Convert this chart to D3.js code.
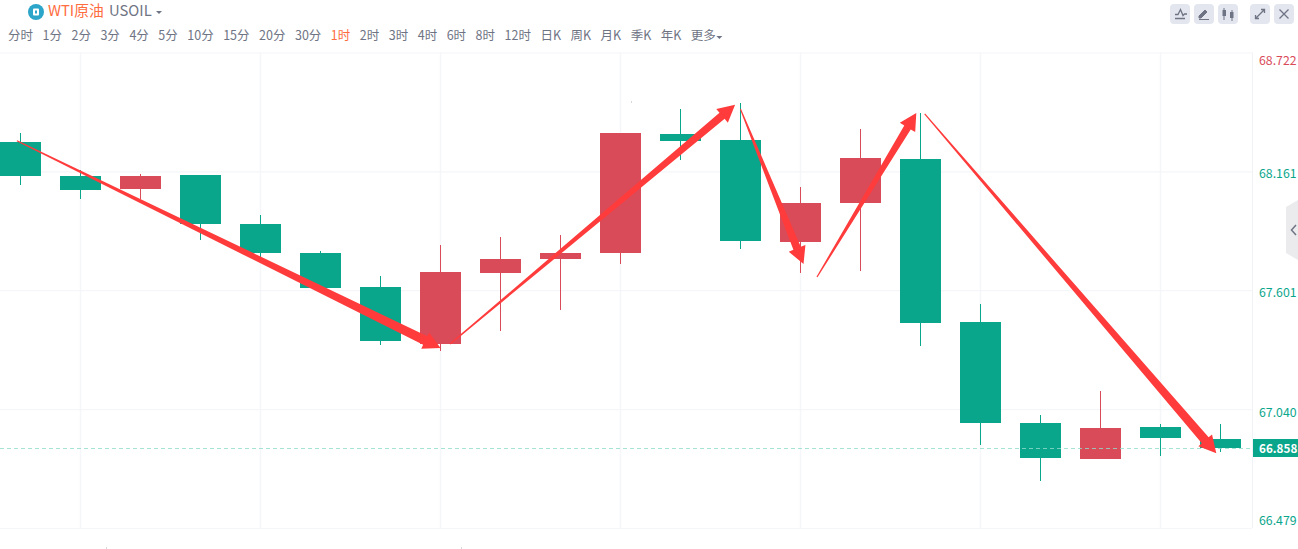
<!DOCTYPE html>
<html><head><meta charset="utf-8">
<script src="https://cdn.jsdelivr.net/npm/d3@7"></script>
<style>html,body{margin:0;padding:0;background:#fff;overflow:hidden}svg{display:block}text{font-family:"Noto Sans CJK SC","Noto Sans",sans-serif}</style>
</head><body><svg id="c" width="1298" height="549"></svg>
<script>
const tabs=["分时","1分","2分","3分","4分","5分","10分","15分","20分","30分","1时","2时","3时","4时","6时","8时","12时","日K","周K","月K","季K","年K","更多"];
const activeTab="1时";
const priceTicks=[68.722,68.161,67.601,67.040,66.479];
const lastPrice=66.858;
const bodyTop=[68.300,68.139,68.139,68.144,67.913,67.776,67.616,67.687,67.748,67.776,68.342,68.337,68.309,68.012,68.224,68.220,67.451,66.974,66.951,66.955,66.899];
const bodyBottom=[68.139,68.073,68.078,67.913,67.776,67.611,67.361,67.347,67.682,67.748,67.776,68.304,67.833,67.828,68.012,67.446,66.974,66.809,66.804,66.904,66.858];
const highs=[68.342,68.168,68.149,68.144,67.955,67.786,67.668,67.814,67.852,67.861,68.342,68.455,68.484,68.087,68.361,68.437,67.536,67.012,67.125,66.970,66.970];
const lows=[68.097,68.031,68.031,67.837,67.748,67.611,67.342,67.314,67.408,67.507,67.724,68.215,67.795,67.682,67.691,67.337,66.871,66.701,66.804,66.819,66.837];
const rising=[0,0,1,0,0,0,0,1,1,1,1,0,0,1,1,0,0,0,1,0,0];
// trend arrows as [candle index, price] pairs, tail then tip
const arrowTails=[[-0.06,68.306],[7.16,67.347],[12.0,68.455],[13.275,67.663],[15.07,68.432]];
const arrowTips=[[7.0,67.328],[11.91,68.475],[13.05,67.724],[14.93,68.437],[19.93,66.832]];
const arrowWidths=[9.5,8,8,7.5,9];
const C={green:"#0aa68c",red:"#da4b5a",grid:"#f5f6f9",arrow:"#ff3b3b",tab:"#6f7484",orange:"#ff6d3f",btn:"#e3e6ee",icon:"#6f7484"};
const svg=d3.select("#c");
const x=d3.scaleLinear().domain([0,20]).range([20.5,1220.5]);
const y=d3.scaleLinear().domain([66.479,68.722]).range([528,52.5]);
const chartRight=1252,bodyW=41;
// grid
svg.append("g").attr("transform",`translate(${chartRight},0)`)
 .call(d3.axisLeft(y).tickValues(priceTicks).tickSize(chartRight).tickFormat(""))
 .call(g=>{g.select(".domain").remove();g.selectAll("line").attr("stroke",C.grid).attr("stroke-width",1.2)});
svg.append("g").selectAll("line").data(d3.range(1,20,3)).join("line")
 .attr("x1",d=>x(d)).attr("x2",d=>x(d)).attr("y1",y(68.722)).attr("y2",y(66.479)).attr("stroke",C.grid).attr("stroke-width",1.4);
svg.append("line").attr("x1",chartRight+.5).attr("x2",chartRight+.5).attr("y1",y(68.722)).attr("y2",y(66.479)).attr("stroke","#f1f2f7");
// candles
const idx=d3.range(bodyTop.length);
const col=i=>rising[i]?C.red:C.green;
svg.append("g").selectAll("rect").data(idx).join("rect")
 .attr("x",i=>x(i)-.5).attr("width",1)
 .attr("y",i=>Math.round(y(highs[i]))).attr("height",i=>Math.round(y(lows[i]))-Math.round(y(highs[i])))
 .attr("fill",col);
svg.append("g").selectAll("rect").data(idx).join("rect")
 .attr("x",i=>x(i)-bodyW/2).attr("width",bodyW)
 .attr("y",i=>Math.round(y(bodyTop[i]))).attr("height",i=>Math.round(y(bodyBottom[i]))-Math.round(y(bodyTop[i])))
 .attr("fill",col);
// last price line
svg.append("line").attr("x1",0).attr("x2",chartRight).attr("y1",Math.round(y(lastPrice))+.5).attr("y2",Math.round(y(lastPrice))+.5)
 .attr("stroke","#8fdcca").attr("stroke-opacity",.8).attr("stroke-dasharray","4 3");
// arrows
const headL=17,headH=9,tailW=1.2;
svg.append("g").selectAll("path").data(idx.slice(0,arrowTips.length)).join("path")
 .attr("fill",C.arrow)
 .attr("d",i=>{
  const S=[x(arrowTails[i][0]),y(arrowTails[i][1])],T=[x(arrowTips[i][0]),y(arrowTips[i][1])];
  const dx=T[0]-S[0],dy=T[1]-S[1],l=Math.hypot(dx,dy),u=[dx/l,dy/l],n=[-u[1],u[0]];
  const B=[T[0]-u[0]*headL,T[1]-u[1]*headL],w=arrowWidths[i]/2;
  const P=k=>[B[0]+n[0]*k,B[1]+n[1]*k];
  const Q=k=>[S[0]+n[0]*k,S[1]+n[1]*k];
  return d3.line()([Q(tailW/2),P(w),P(headH),T,P(-headH),P(-w),Q(-tailW/2)])+"Z";
 });
// price axis labels
svg.append("g").attr("transform",`translate(${chartRight},0)`)
 .call(d3.axisRight(y).tickValues(priceTicks).tickSize(0).tickPadding(7).tickFormat(d3.format(".3f")))
 .call(g=>{g.select(".domain").remove();
  g.selectAll("text").attr("font-size",12.3).attr("font-family",'"Noto Sans CJK SC","Noto Sans",sans-serif')
   .attr("fill",d=>d===68.722?C.red:C.green)
   .attr("dy",d=>d===68.722?"1em":d===66.479?"-0.28em":"0.36em")
   .attr("y",d=>d===67.040?3:(d===68.161||d===67.601?2:0));});
const ly=Math.round(y(lastPrice));
svg.append("rect").attr("x",chartRight+1).attr("y",ly-9).attr("width",45).attr("height",18).attr("fill",C.green);
svg.append("text").attr("x",1259).attr("y",ly+4.5).attr("fill","#fff").attr("font-size",11.7).attr("font-weight",700).text(d3.format(".3f")(lastPrice));
// header
svg.append("circle").attr("cx",36).attr("cy",12).attr("r",8).attr("fill","#2ba5c9");
svg.append("rect").attr("x",33).attr("y",8.5).attr("width",6).attr("height",7).attr("rx",1).attr("fill","#fff");
svg.append("rect").attr("x",35).attr("y",10.5).attr("width",2).attr("height",3).attr("fill","#2ba5c9");
svg.append("text").attr("x",48).attr("y",16).attr("font-size",14.8).attr("fill",C.orange).text("WTI原油");
svg.append("text").attr("x",109).attr("y",16).attr("font-size",14.8).attr("fill",C.tab).text("USOIL");
svg.append("path").attr("d","M156 11h6l-3 3z").attr("fill",C.tab);
// tabs
let tx=8;
const tg=svg.append("g");
tabs.forEach(t=>{
 const e=tg.append("text").attr("x",tx).attr("y",40).attr("font-size",12.5).attr("fill",t===activeTab?C.orange:C.tab).text(t);
 tx+=e.node().getComputedTextLength()+9.5;
});
svg.append("path").attr("d",`M${tx-9} 36h6l-3 3z`).attr("fill",C.tab);
// toolbar buttons
const btns=[1170,1194,1218,1250,1274];
svg.append("g").selectAll("rect").data(btns).join("rect").attr("x",d=>d).attr("y",4).attr("width",20).attr("height",20).attr("rx",4).attr("fill",C.btn);
const ic=svg.append("g").attr("stroke",C.icon).attr("fill","none").attr("stroke-width",1.3);
ic.append("path").attr("d","M1175 14.5h3l2.5-5 2.5 6 1.500-1.500h2.500M1175 18.500h10");
ic.append("path").attr("d","M1199 16l6-6 2 2-6 6h-2zM1199 19.500h10").attr("fill",C.icon).attr("stroke-width",1);
ic.append("path").attr("d","M1224 8v12M1232 10v11").attr("stroke-width",1);
ic.append("rect").attr("x",1222.500).attr("y",10).attr("width",3.500).attr("height",6).attr("fill",C.icon).attr("stroke","none");
ic.append("rect").attr("x",1230).attr("y",12).attr("width",3.500).attr("height",6).attr("fill",C.icon).attr("stroke","none");
ic.append("path").attr("d","M1256 18l8-8M1261 9.500h3.500v3.500M1255.500 15v3.500h3.500");
ic.append("path").attr("d","M1279.500 9.500l9 9M1288.500 9.500l-9 9");
// side handle
svg.append("path").attr("d","M1298 200l-12 7v46l12 7z").attr("fill","#ebebee");
svg.append("path").attr("d","M1296 225l-4.500 5 4.500 5").attr("fill","none").attr("stroke",C.icon).attr("stroke-width",1.500);
// faint specks
svg.append("g").selectAll("rect").data([[631,101],[106,547],[461,547]]).join("rect")
 .attr("x",d=>d[0]).attr("y",d=>d[1]).attr("width",1).attr("height",2).attr("fill","#d8d8dc");
</script></body></html>
